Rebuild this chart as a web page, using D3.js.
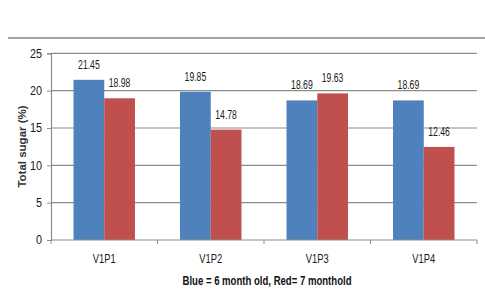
<!DOCTYPE html>
<html><head><meta charset="utf-8">
<script src="https://cdn.jsdelivr.net/npm/d3@7"></script>
<style>body{margin:0;background:#fff}svg{display:block}</style>
</head><body>
<svg id="c" width="485" height="291"></svg>
<script>
const categories = ["V1P1","V1P2","V1P3","V1P4"];
const seriesNames = ["6 month old","7 month old"];
const blueValues = [21.45,19.85,18.69,18.69];
const redValues = [18.98,14.78,19.63,12.46];
const yTicks = [0,5,10,15,20,25];
const colors = ["#4F81BD","#C0504D"];
const yTitle = "Total sugar (%)";
const caption = "Blue = 6 month old, Red= 7 monthold";

const FONT = "'Liberation Sans',Arial,sans-serif";
const svg = d3.select("#c");
const m = {l:51, r:477, t:53.3, b:240};

function squeeze(sel, f){
  sel.each(function(){
    const w = this.getComputedTextLength();
    d3.select(this).attr("textLength", w*f).attr("lengthAdjust","spacingAndGlyphs");
  });
}

svg.append("line").attr("x1",8).attr("x2",485).attr("y1",38).attr("y2",38)
  .attr("stroke","#a6a6a6").attr("stroke-width",2);

const y = d3.scaleLinear().domain([0,25]).range([m.b,m.t]);
const x0 = d3.scaleBand().domain(categories).range([m.l,m.r]).paddingInner(0.423).paddingOuter(0.2115);
const x1 = d3.scaleBand().domain([0,1]).range([0,x0.bandwidth()]);

// gridlines
svg.append("g").selectAll("line").data(yTicks.filter(d=>d>0)).join("line")
  .attr("x1",m.l).attr("x2",m.r).attr("y1",d=>y(d)).attr("y2",d=>y(d))
  .attr("stroke","#8c8c8c").attr("stroke-width",1.2);

// y axis
const ya = svg.append("g").attr("transform",`translate(${m.l},0)`)
  .call(d3.axisLeft(y).tickValues(yTicks).tickSize(4).tickPadding(5));
ya.select(".domain").attr("stroke","#8c8c8c").attr("stroke-width",1.2);
ya.selectAll(".tick line").attr("stroke","#8c8c8c");
const yt = ya.selectAll("text").attr("font-family",FONT).attr("font-size",12).attr("fill","#1a1a1a");
squeeze(yt, 0.9);

// bars
const data = categories.map((c,i)=>({c, v:[blueValues[i],redValues[i]]}));
const g = svg.append("g").selectAll("g").data(data).join("g")
  .attr("transform",d=>`translate(${x0(d.c)},0)`);
g.selectAll("rect").data(d=>d.v.map((v,j)=>({v,j}))).join("rect")
  .attr("x",d=>x1(d.j)).attr("width",x1.bandwidth())
  .attr("y",d=>y(d.v)).attr("height",d=>m.b-y(d.v))
  .attr("fill",d=>colors[d.j]);
const vl = g.selectAll("text").data(d=>d.v.map((v,j)=>({v,j}))).join("text")
  .attr("x",d=>x1(d.j)+x1.bandwidth()/2).attr("y",d=>y(d.v)-11)
  .attr("text-anchor","middle").attr("font-family",FONT).attr("font-size",12)
  .attr("fill","#1a1a1a").text(d=>d.v.toFixed(2));
squeeze(vl, 0.72);

// x axis
svg.append("line").attr("x1",m.l).attr("x2",m.r).attr("y1",m.b).attr("y2",m.b)
  .attr("stroke","#8c8c8c").attr("stroke-width",1.2);
const bounds = categories.map(c=>x0(c)-x0.step()*x0.paddingOuter()).concat([m.r]);
svg.append("g").selectAll("line").data(bounds).join("line")
  .attr("x1",d=>d).attr("x2",d=>d).attr("y1",m.b).attr("y2",m.b+4)
  .attr("stroke","#8c8c8c");
const cl = svg.append("g").selectAll("text").data(categories).join("text")
  .attr("x",d=>x0(d)+x0.bandwidth()/2).attr("y",262.5)
  .attr("text-anchor","middle").attr("font-family",FONT).attr("font-size",12)
  .attr("fill","#1a1a1a").text(d=>d);
squeeze(cl, 0.78);

// y title
svg.append("text").attr("transform","translate(26,146.5) rotate(-90)")
  .attr("text-anchor","middle").attr("font-family",FONT).attr("font-size",11.5)
  .attr("font-weight","bold").attr("fill","#333").text(yTitle);

// caption
const cap = svg.append("text").attr("x",267).attr("y",284.5).attr("text-anchor","middle")
  .attr("font-family",FONT).attr("font-size",12).attr("font-weight","bold")
  .attr("fill","#111").text(caption);
cap.each(function(){
  const w = this.getComputedTextLength();
  d3.select(this).attr("textLength", Math.min(w, 169)).attr("lengthAdjust","spacingAndGlyphs");
});
</script>
</body></html>
